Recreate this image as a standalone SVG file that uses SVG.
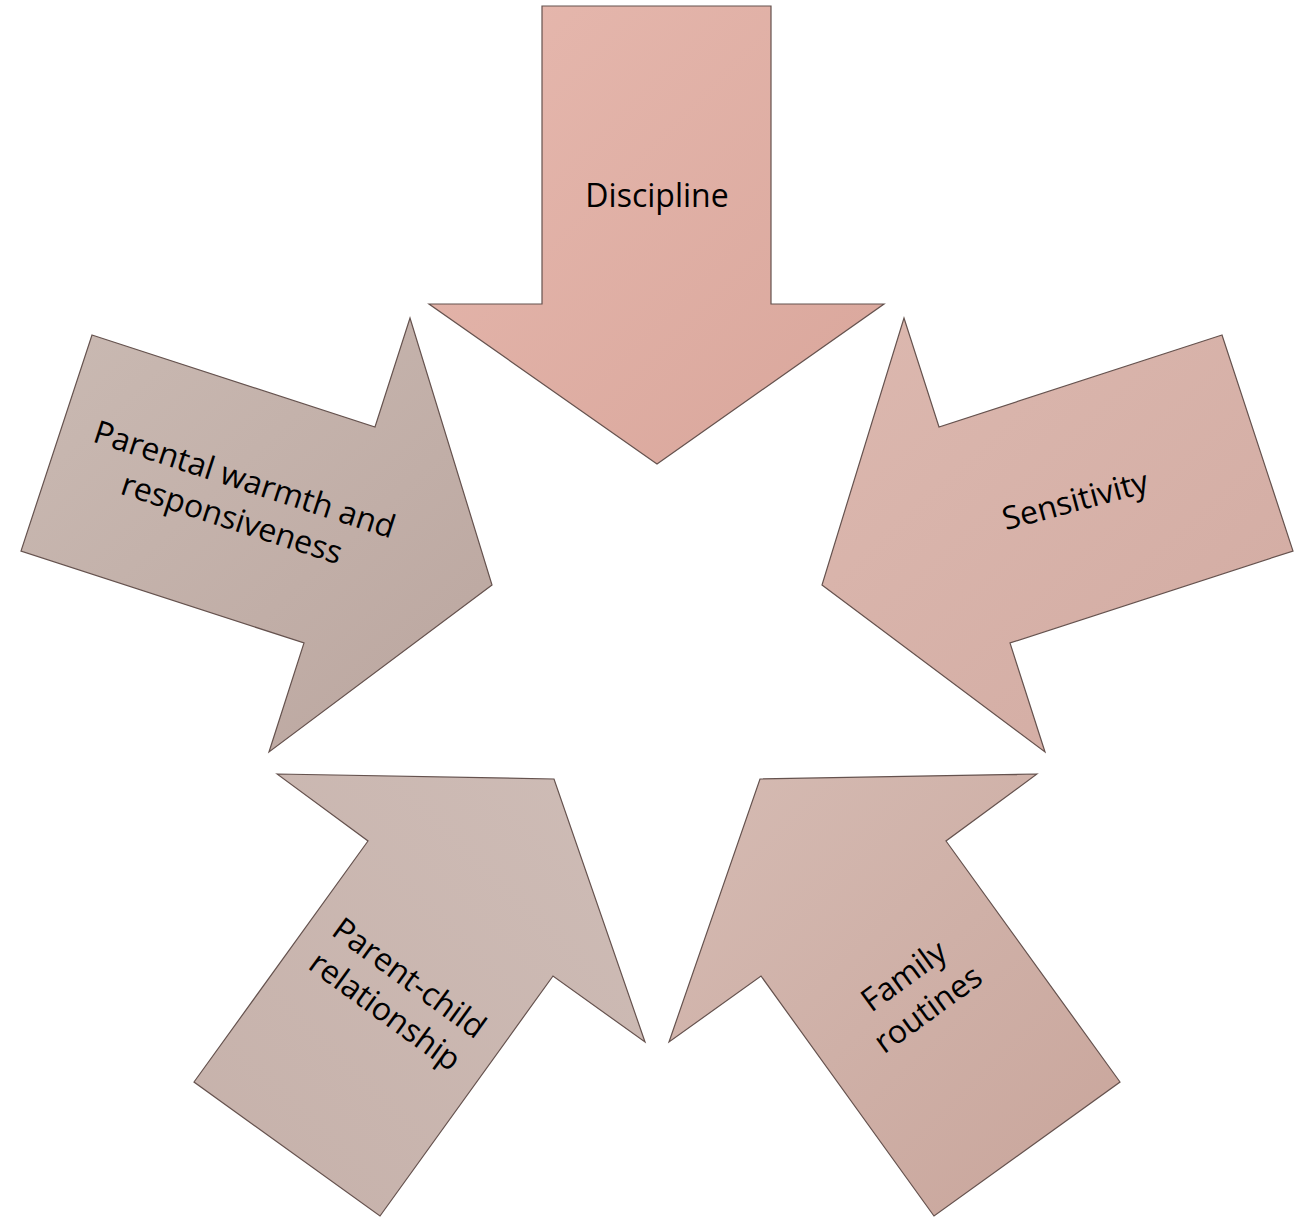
<svg xmlns="http://www.w3.org/2000/svg" width="1303" height="1217" viewBox="0 0 1303 1217">
<style>
  .arrow { stroke: #65524e; stroke-width: 1.2; stroke-linejoin: miter; }
  .lbl { font-family: "Open Sans", "Noto Sans", "DejaVu Sans", sans-serif; font-size: 32px; fill: #000; text-anchor: middle; }
</style>
<defs>
  <linearGradient id="gDisc" x1="0" y1="0" x2="1" y2="1">
    <stop offset="0" stop-color="#E6B8AE"/>
    <stop offset="1" stop-color="#D9A69B"/>
  </linearGradient>
  <linearGradient id="gWarm" x1="0" y1="0" x2="1" y2="1">
    <stop offset="0" stop-color="#CABAB3"/>
    <stop offset="1" stop-color="#BBA69F"/>
  </linearGradient>
  <linearGradient id="gSens" x1="0" y1="0" x2="1" y2="1">
    <stop offset="0" stop-color="#DCB8AF"/>
    <stop offset="1" stop-color="#D2ABA2"/>
  </linearGradient>
  <linearGradient id="gPC" x1="1" y1="0" x2="0" y2="1">
    <stop offset="0" stop-color="#CEBCB6"/>
    <stop offset="1" stop-color="#C6B1AA"/>
  </linearGradient>
  <linearGradient id="gFam" x1="0" y1="0" x2="1" y2="1">
    <stop offset="0" stop-color="#D5BBB3"/>
    <stop offset="1" stop-color="#C9A59B"/>
  </linearGradient>
</defs>
<rect width="1303" height="1217" fill="#FFFFFF"/>
<g id="connectors"></g>
<g id="node-discipline">
  <polygon class="arrow" fill="url(#gDisc)" points="542,6 771,6 771,304 884,304 657,464 429,304 542,304"/>
  <text class="lbl" x="657" y="207">Discipline</text>
</g>
<g id="node-warmth">
  <polygon class="arrow" fill="url(#gWarm)" points="92,335 375,427 410,318 492,585 269,752 304,643 21,551"/>
  <text class="lbl" transform="translate(235,509) rotate(18)"><tspan x="0" y="-20">Parental warmth and</tspan><tspan x="0" y="21">responsiveness</tspan></text>
</g>
<g id="node-sensitivity">
  <polygon class="arrow" fill="url(#gSens)" points="1222,335 939,427 904,318 822,585 1045,752 1010,643 1293,551"/>
  <text class="lbl" transform="translate(1078,511) rotate(-15)" x="0" y="0">Sensitivity</text>
</g>
<g id="node-parentchild">
  <polygon class="arrow" fill="url(#gPC)" points="277,774 554,779 645,1042 553,976 380,1216 194,1082 368,841"/>
  <text class="lbl" transform="translate(391,1003) rotate(36)"><tspan x="0" y="-20">Parent-child</tspan><tspan x="0" y="21">relationship</tspan></text>
</g>
<g id="node-family">
  <polygon class="arrow" fill="url(#gFam)" points="1037,774 760,779 669,1042 761,976 934,1216 1120,1082 946,841"/>
  <text class="lbl" transform="translate(922,1001) rotate(-36)"><tspan x="0" y="-20">Family</tspan><tspan x="0" y="21">routines</tspan></text>
</g>
</svg>
